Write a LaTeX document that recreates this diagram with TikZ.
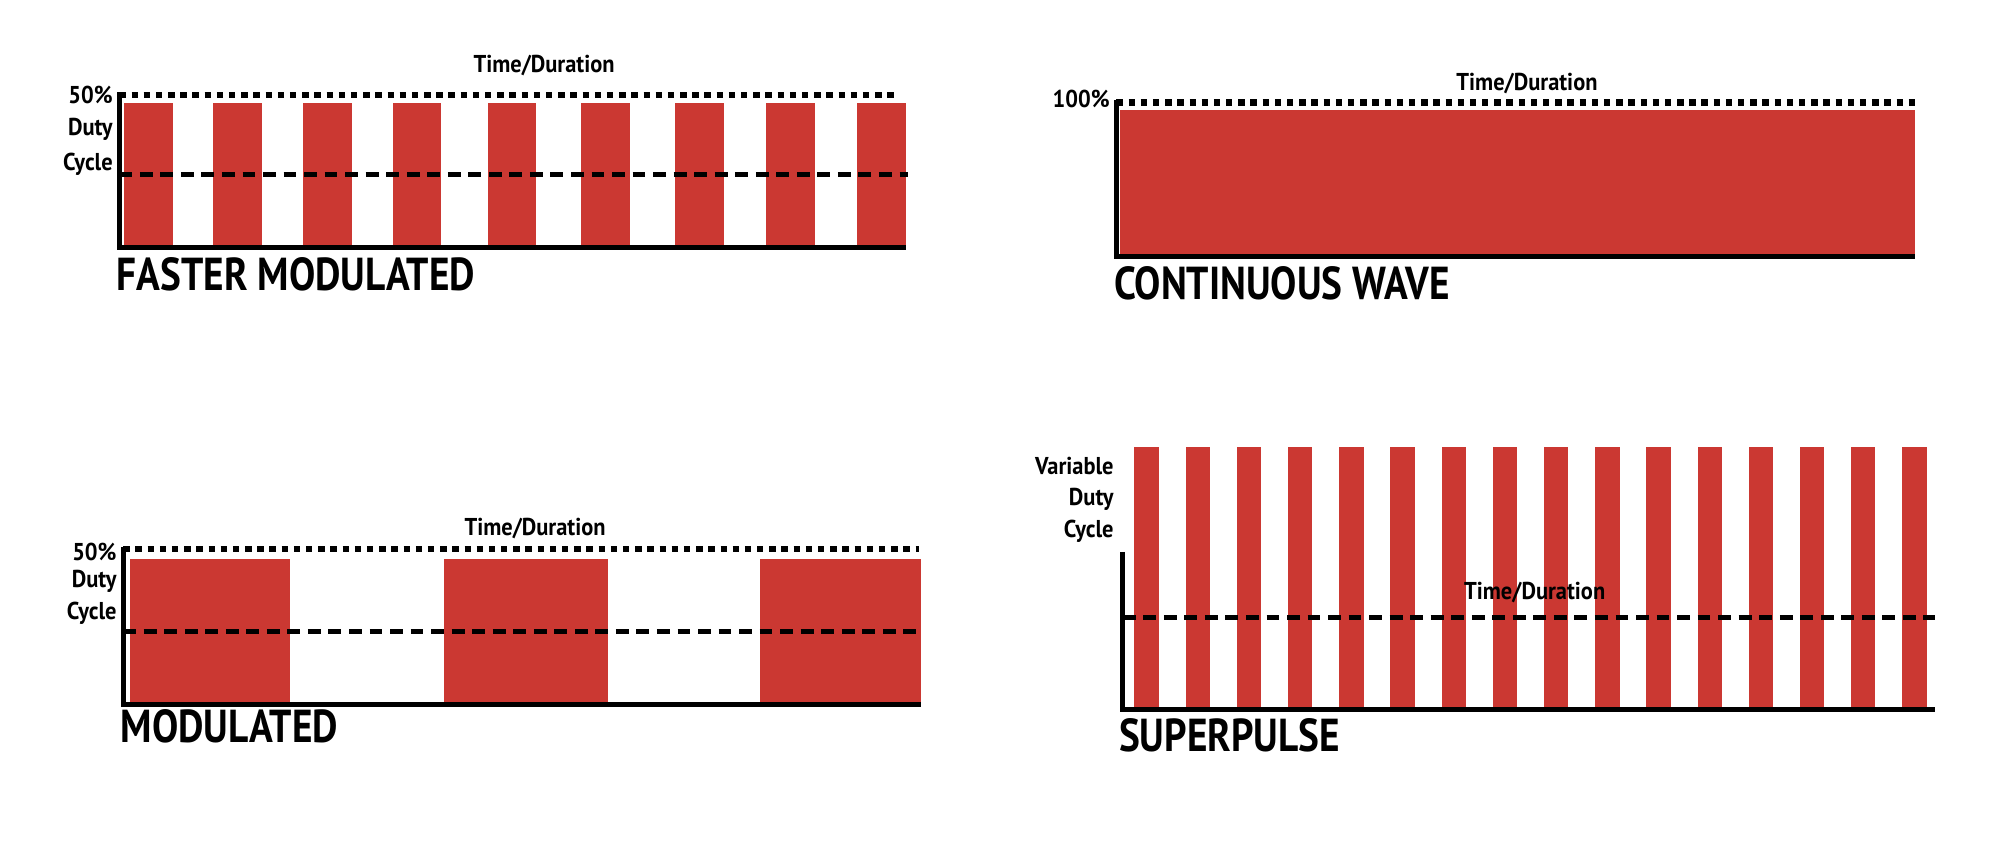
\documentclass[tikz,border=0pt]{standalone}
\usepackage{fontspec}
\setmainfont{PT Sans}
\definecolor{laser}{RGB}{203,56,50}
\begin{document}
\begin{tikzpicture}[x=1pt,y=-1pt,
  bar/.style={fill=laser,draw=none},
  axis/.style={line width=4pt},
  dotl/.style={line width=5pt,dash pattern=on 5pt off 4.5pt},
  dashl/.style={line width=4pt,dash pattern=on 10pt off 6pt},
  small/.style={font=\fontsize{19}{19}\bfseries\selectfont,xscale=0.92,inner sep=0pt},
  big/.style={font=\fontsize{36}{36}\bfseries\selectfont,xscale=0.85,inner sep=0pt,anchor=west}]
\useasboundingbox (0,0) rectangle (1568,667);
\fill[white] (0,0) rectangle (1568,667);
% Panel 1
\foreach \a in {97,166,236,306,380,453,526,597,668} \fill[bar] (\a,80) rectangle ++(38,113);
\draw[dotl] (93,74) -- (697,74);
\draw[dashl] (93,136) -- (708,136);
\draw[axis] (93,72) -- (93,193) -- (706,193);
\node[small,anchor=east] (p1a) at (88,74) {50\%};
\node[small,anchor=east] (p1b) at (88,101) {Duty};
\node[small,anchor=east] (p1c) at (88,128) {Cycle};
\node[small] (p1t) at (424,51) {Time/Duration};
\node[big] (p1n) at (91,214) {FASTER MODULATED};
% Panel 2
\fill[bar] (873,86) rectangle (1492,199);
\draw[dotl] (870,80) -- (1492,80);
\draw[axis] (870,78) -- (870,200) -- (1492,200);
\node[small,anchor=east] (p2a) at (865,77) {100\%};
\node[small] (p2t) at (1190,65) {Time/Duration};
\node[big] (p2n) at (868,221) {CONTINUOUS WAVE};
% Panel 3
\foreach \a/\w in {101/125,346/128,592/126} \fill[bar] (\a,436) rectangle ++(\w,113);
\draw[dotl] (96,428) -- (716,428);
\draw[dashl] (96,492) -- (718,492);
\draw[axis] (96,426) -- (96,549) -- (718,549);
\node[small,anchor=east] (p3a) at (91,430) {50\%};
\node[small,anchor=east] (p3b) at (91,453) {Duty};
\node[small,anchor=east] (p3c) at (91,478) {Cycle};
\node[small] (p3t) at (417,412) {Time/Duration};
\node[big] (p3n) at (94,566) {MODULATED};
% Panel 4
\foreach \i in {0,...,15} \fill[bar] ({884+39.9*\i},348) rectangle ++(19,205);
\draw[dashl] (875,481) -- (1508,481);
\draw[axis] (875,430) -- (875,553) -- (1508,553);
\node[small,anchor=east] (p4a) at (868,363) {Variable};
\node[small,anchor=east] (p4b) at (868,389) {Duty};
\node[small,anchor=east] (p4c) at (868,414) {Cycle};
\node[small] (p4t) at (1196,462) {Time/Duration};
\node[big] (p4n) at (872,573) {SUPERPULSE};
\end{tikzpicture}
\end{document}
